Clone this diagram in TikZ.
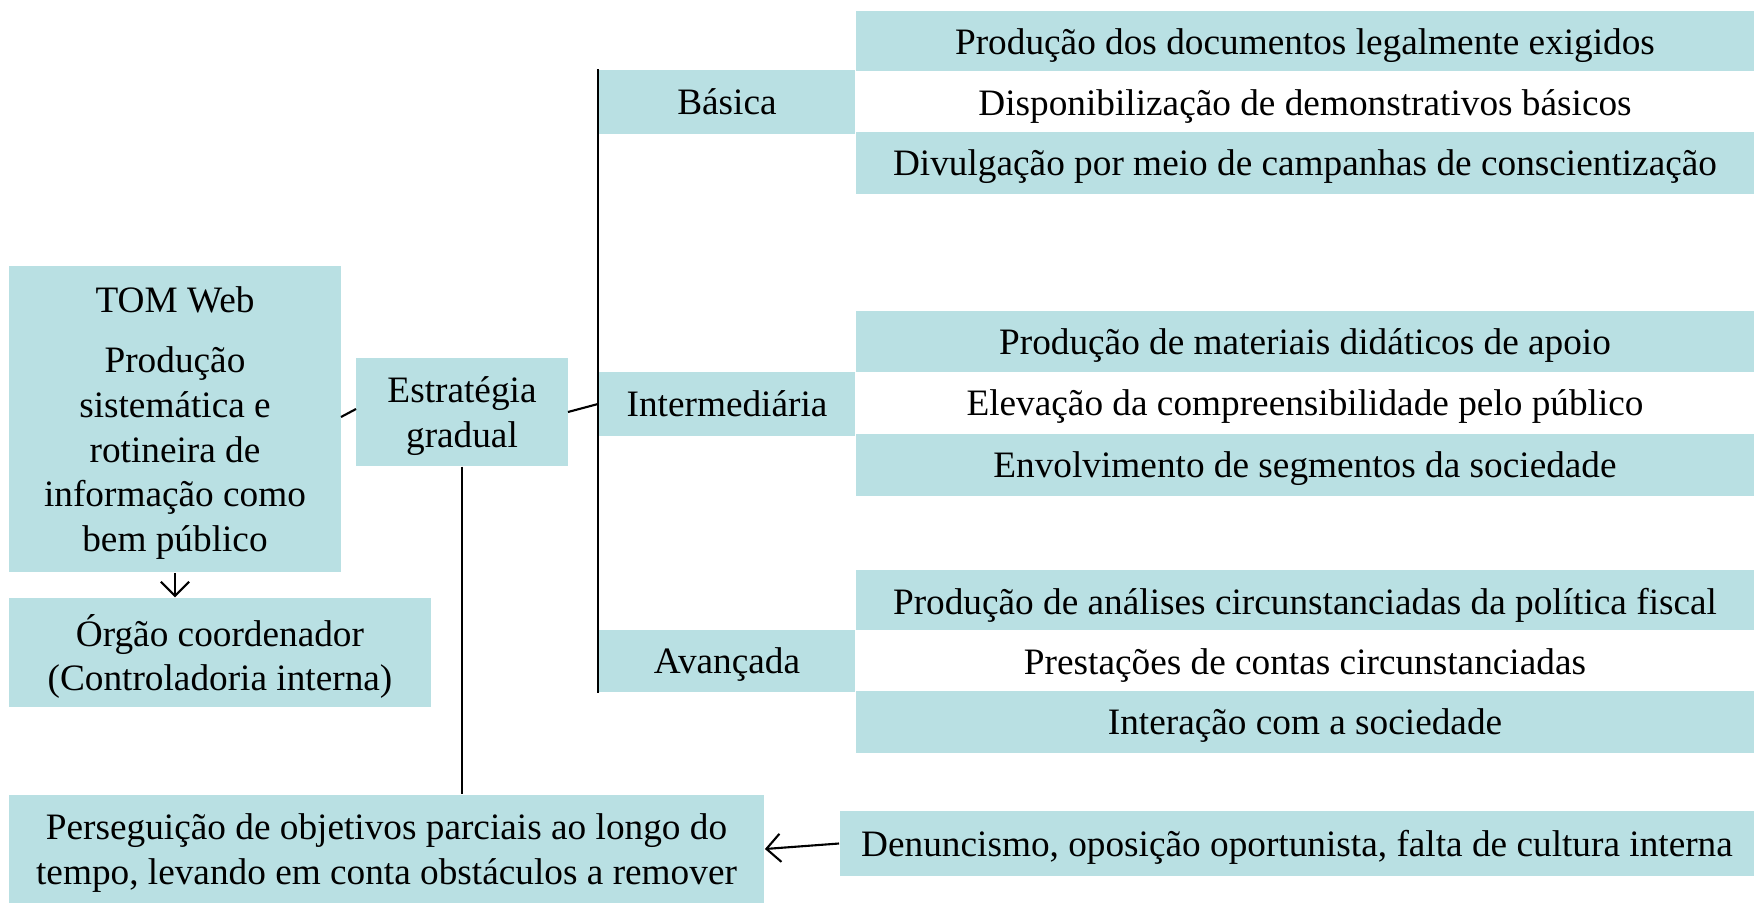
\documentclass[tikz,border=0pt]{standalone}
\usepackage{fontspec}
\setmainfont{Liberation Serif}
\usetikzlibrary{arrows.meta}

\begin{document}
\begin{tikzpicture}[x=0.01cm, y=-0.01cm,
    caixa/.style={fill=azul, inner sep=0pt, align=center, text depth=0pt, font=\fontsize{10.6}{12.7}\selectfont},
    linha/.style={caixa, fill=white},
    acao/.style={caixa, minimum width=8.98cm, minimum height=0.62cm},
    nivel/.style={caixa, minimum width=2.56cm, minimum height=0.64cm},
    ligacao/.style={line width=0.6pt},
    seta/.style={ligacao, -{Straight Barb[length=4pt, width=8pt]}}]
   \definecolor{azul}{RGB}{185,224,227}
   \useasboundingbox (0, 0) rectangle (1754, 903);

   % lado esquerdo
   \node[caixa, minimum width=3.32cm, minimum height=3.06cm] (tom) at (175, 419)
      {TOM Web\\[4.5pt] Produção\\ sistemática e\\ rotineira de\\ informação como\\ bem público};
   \node[caixa, minimum width=2.12cm, minimum height=1.08cm] (estr) at (462, 412) {Estratégia\\ gradual};
   \node[caixa, minimum width=4.22cm, minimum height=1.09cm] (orgao) at (220, 652.5)
      {Órgão coordenador\\ (Controladoria interna)};
   \node[caixa, minimum width=7.55cm, minimum height=1.08cm] (pers) at (386.5, 849)
      {Perseguição de objetivos parciais ao longo do\\ tempo, levando em conta obstáculos a remover};
   \node[caixa, minimum width=9.14cm, minimum height=0.65cm] (denun) at (1297, 843.5)
      {Denuncismo, oposição oportunista, falta de cultura interna};

   % níveis
   \node[nivel] (basica) at (727, 102) {Básica};
   \node[nivel] (inter) at (727, 404) {Intermediária};
   \node[nivel, minimum height=0.62cm] (avanc) at (727, 661) {Avançada};

   % acoes de cada nivel
   \node[acao] (b1) at (1305, 42) {Produção dos documentos legalmente exigidos};
   \node[acao, linha] (b2) at (1305, 102.5) {Disponibilização de demonstrativos básicos};
   \node[acao] (b3) at (1305, 163) {Divulgação por meio de campanhas de conscientização};

   \node[acao] (i1) at (1305, 342) {Produção de materiais didáticos de apoio};
   \node[acao, linha] (i2) at (1305, 403) {Elevação da compreensibilidade pelo público};
   \node[acao] (i3) at (1305, 465) {Envolvimento de segmentos da sociedade};

   \node[acao] (a1) at (1305, 601) {Produção de análises circunstanciadas da política fiscal};
   \node[acao, linha] (a2) at (1305, 661.5) {Prestações de contas circunstanciadas};
   \node[acao] (a3) at (1305, 722) {Interação com a sociedade};

   % ligacoes
   \coordinate (topo) at (basica.north west);
   \coordinate (fim) at (avanc.south west);
   \coordinate (meio) at (598, 404);
   \coordinate (tomsai) at (341, 417);
   \coordinate (estrent) at (356, 409);
   \coordinate (estrsai) at (568, 412);
   \draw[ligacao] (topo) -- (fim);
   \draw[ligacao] (tomsai) -- (estrent);
   \draw[ligacao] (estrsai) -- (meio);
   \draw[seta] (tom.south) -- (tom.south |- orgao.north);
   \draw[ligacao] (estr.south) -- (estr.south |- pers.north);
   \draw[seta] (denun.west) -- (pers.east);
\end{tikzpicture}
\end{document}
